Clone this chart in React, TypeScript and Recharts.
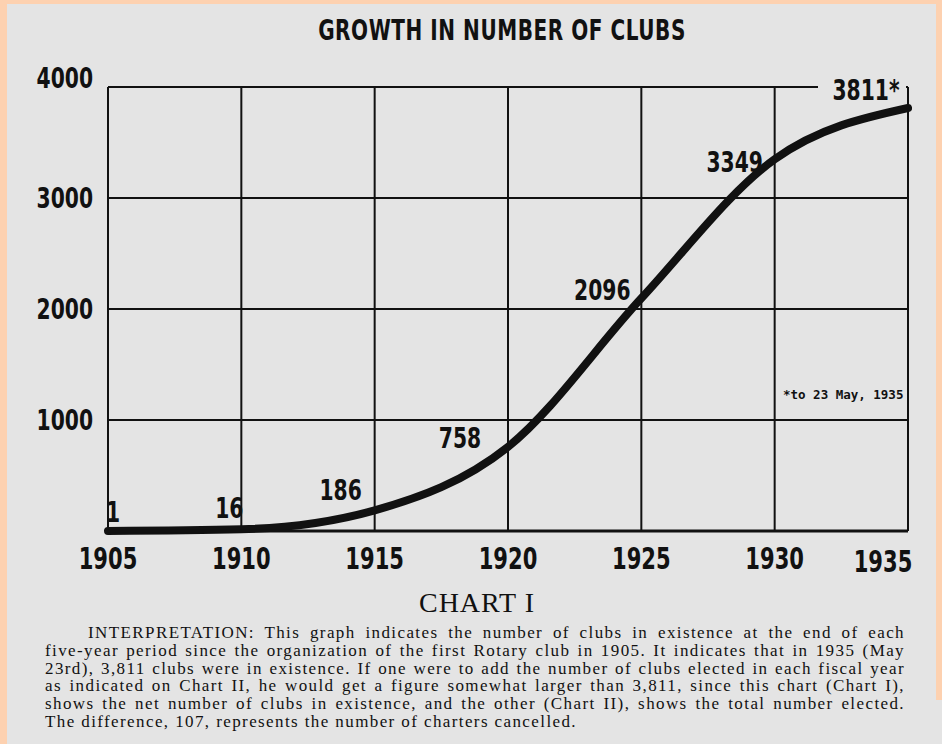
import React from 'react';
import { LineChart, Line, XAxis, YAxis, CartesianGrid, LabelList } from 'recharts';

const years = [1905, 1910, 1915, 1920, 1925, 1930, 1935];
const clubs = [1, 16, 186, 758, 2096, 3349, 3811];
const pointLabels = ['1', '16', '186', '758', '2096', '3349', '3811*'];
const xTicks = [1905, 1910, 1915, 1920, 1925, 1930, 1935];
const yTicks = [1000, 2000, 3000, 4000];

const title = 'GROWTH IN NUMBER OF CLUBS';
const chartName = 'CHART I';
const footnote = '*to 23 May, 1935';
const paragraphLines = [
  'INTERPRETATION: This graph indicates the number of clubs in existence at the end of each',
  'five-year period since the organization of the first Rotary club in 1905. It indicates that in 1935 (May',
  '23rd), 3,811 clubs were in existence.  If one were to add the number of clubs elected in each fiscal year',
  'as indicated on Chart II, he would get a figure somewhat larger than 3,811, since this chart (Chart I),',
  'shows the net number of clubs in existence, and the other (Chart II), shows the total number elected.',
  'The difference, 107, represents the number of charters cancelled.',
];

const data = years.map((y, i) => ({ year: y, clubs: clubs[i], label: pointLabels[i] }));

const COND = "'DejaVu Sans', sans-serif";
const SERIF = "'Liberation Serif', 'DejaVu Serif', serif";
const BG = '#e4e4e4';
const PEACH = '#fdd1b0';

const labelOffsets: [number, number][] = [
  [5, -19], [-12, -21], [-34, -20], [-48, -9], [-39, -8], [-40, 3], [-42, -18],
];

const NarrowText = ({ x, y, anchor, size, sx, children }: any) => (
  <text transform={`translate(${x},${y}) scale(${sx},1)`} x={0} y={0} textAnchor={anchor}
    dominantBaseline="central" fontFamily={COND} fontWeight="bold" fontSize={size} fill="#111">
    {children}
  </text>
);

const YTick = (props: any) => {
  const { x, y, payload } = props;
  const dy = payload.value === 4000 ? -9 : 0;
  return <NarrowText x={x - 7} y={y + dy} anchor="end" size={29} sx={0.7}>{payload.value}</NarrowText>;
};

const XTick = (props: any) => {
  const { x, y, payload } = props;
  const last = payload.value === 1935;
  return (
    <NarrowText x={x + (last ? -25 : 0)} y={y + (last ? 22 : 19)} anchor="middle" size={31} sx={0.68}>
      {payload.value}
    </NarrowText>
  );
};

const PointLabel = (props: any) => {
  const { x, y, value, index } = props;
  const [dx, dy] = labelOffsets[index] || [0, 0];
  const last = index === pointLabels.length - 1;
  return (
    <g>
      {last && <rect x={x - 90} y={y - 30} width={88} height={24} fill={BG} />}
      <NarrowText x={x + dx} y={y + dy} anchor="middle" size={29} sx={0.7}>{value}</NarrowText>
    </g>
  );
};

export default function App() {
  return (
    <div style={{ position: 'absolute', left: 0, top: 0, width: 942, height: 744, background: BG, overflow: 'hidden' }}>
      <div style={{ position: 'absolute', left: 0, top: 0, width: 7, height: 744, background: PEACH }} />
      <div style={{ position: 'absolute', left: 0, top: 0, width: 942, height: 4, background: PEACH }} />
      <div style={{ position: 'absolute', left: 936, top: 0, width: 6, height: 700, background: PEACH }} />
      <div style={{
        position: 'absolute', left: 0, top: 13, width: 1004, textAlign: 'center',
        transform: 'scaleX(0.69)', transformOrigin: '502px 0',
        fontFamily: COND, fontWeight: 'bold', fontSize: 29, letterSpacing: 0.8, color: '#111', lineHeight: '34px',
      }}>{title}</div>
      <div style={{ position: 'absolute', left: 0, top: 0 }}>
        <LineChart width={942} height={580} data={data} margin={{ top: 87, right: 34, bottom: 19, left: 8 }}>
          <CartesianGrid stroke="#111" strokeWidth={2} />
          <XAxis dataKey="year" type="number" domain={[1905, 1935]} ticks={xTicks}
            axisLine={{ stroke: '#111', strokeWidth: 3 }} tickLine={false} tick={<XTick />} height={30} interval={0} />
          <YAxis type="number" domain={[0, 4000]} ticks={yTicks} width={100}
            axisLine={false} tickLine={false} tick={<YTick />} interval={0} />
          <Line type="monotone" dataKey="clubs" stroke="#111" strokeWidth={8} dot={false}
            isAnimationActive={false} strokeLinecap="round">
            <LabelList dataKey="label" content={<PointLabel />} />
          </Line>
        </LineChart>
      </div>
      <div style={{
        position: 'absolute', left: 783, top: 387, fontFamily: "'DejaVu Sans Mono', monospace",
        fontWeight: 'bold', fontSize: 12.5, color: '#111', whiteSpace: 'pre',
      }}>{footnote}</div>
      <div style={{
        position: 'absolute', left: 0, top: 587, width: 954, textAlign: 'center',
        fontFamily: SERIF, fontSize: 28, letterSpacing: 1, color: '#111', lineHeight: '32px',
      }}>{chartName}</div>
      <div style={{ position: 'absolute', left: 45, top: 624, width: 860, fontFamily: SERIF, fontSize: 17, letterSpacing: 1.4, color: '#111' }}>
        {paragraphLines.map((line, i) => {
          const isLast = i === paragraphLines.length - 1;
          return (
            <div key={i} style={{
              height: 17.8, lineHeight: '17.8px', whiteSpace: 'nowrap',
              textAlign: isLast ? 'left' : 'justify', textAlignLast: isLast ? 'left' : 'justify',
              paddingLeft: i === 0 ? 43 : 0,
            } as any}>{line}</div>
          );
        })}
      </div>
    </div>
  );
}
